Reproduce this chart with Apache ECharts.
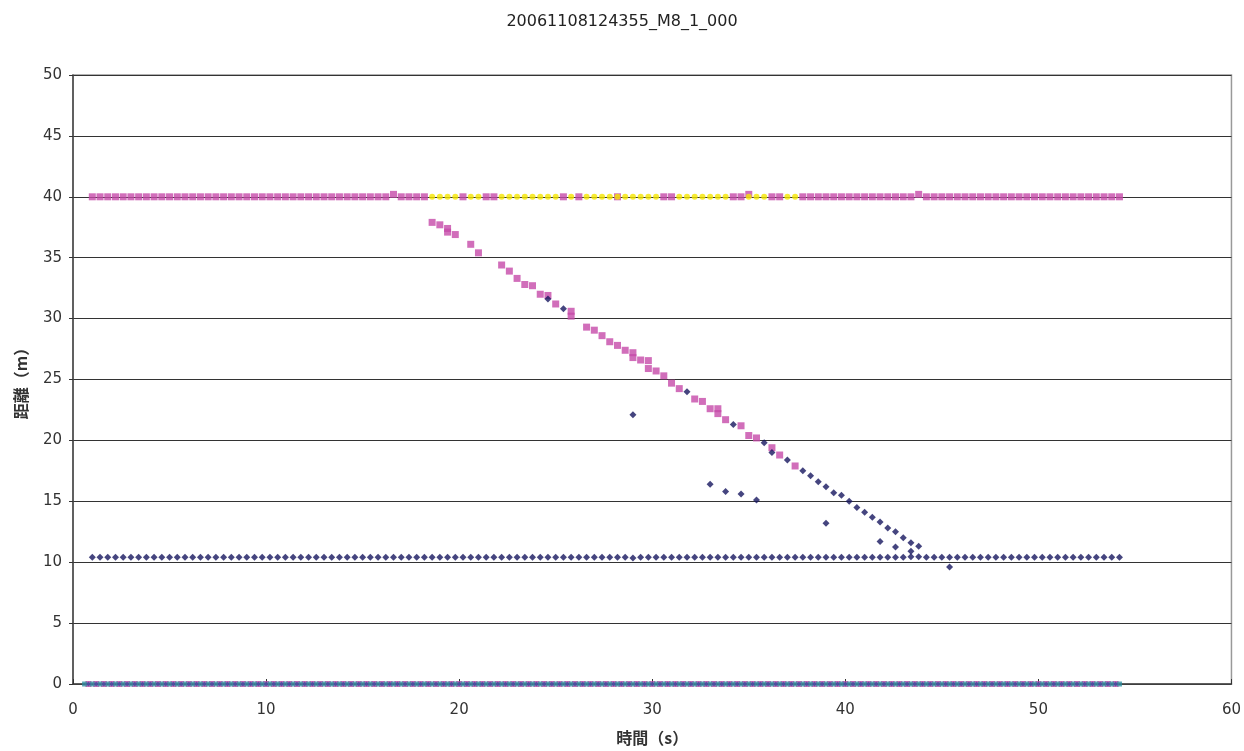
<!DOCTYPE html>
<html>
<head>
<meta charset="utf-8">
<script src="https://cdn.jsdelivr.net/npm/echarts@6/dist/echarts.min.js"></script>
<style>
html,body{margin:0;padding:0;background:#fff;overflow:hidden;}
#chart{width:1244px;height:751px;}
</style>
</head>
<body>
<div id="chart"></div>
<script>
// sample times (s)
const sampleTimes = [
 1.0,1.4,1.8,2.2,2.6,3.0,3.4,3.8,4.2,4.6,
 5.0,5.4,5.8,6.2,6.6,7.0,7.4,7.8,8.2,8.6,
 9.0,9.4,9.8,10.2,10.6,11.0,11.4,11.8,12.2,12.6,
 13.0,13.4,13.8,14.2,14.6,15.0,15.4,15.8,16.2,16.6,
 17.0,17.4,17.8,18.2,18.6,19.0,19.4,19.8,20.2,20.6,
 21.0,21.4,21.8,22.2,22.6,23.0,23.4,23.8,24.2,24.6,
 25.0,25.4,25.8,26.2,26.6,27.0,27.4,27.8,28.2,28.6,
 29.0,29.4,29.8,30.2,30.6,31.0,31.4,31.8,32.2,32.6,
 33.0,33.4,33.8,34.2,34.6,35.0,35.4,35.8,36.2,36.6,
 37.0,37.4,37.8,38.2,38.6,39.0,39.4,39.8,40.2,40.6,
 41.0,41.4,41.8,42.2,42.6,43.0,43.4,43.8,44.2,44.6,
 45.0,45.4,45.8,46.2,46.6,47.0,47.4,47.8,48.2,48.6,
 49.0,49.4,49.8,50.2,50.6,51.0,51.4,51.8,52.2,52.6,
 53.0,53.4,53.8,54.2
];
// magenta series, one value per sample time (null = no point)
const pinkValues = [
 40,40,40,40,40,40,40,40,40,40,
 40,40,40,40,40,40,40,40,40,40,
 40,40,40,40,40,40,40,40,40,40,
 40,40,40,40,40,40,40,40,40,40.2,
 40,40,40,40,37.9,37.7,37.4,36.9,40,36.1,
 35.4,40,40,34.4,33.9,33.3,32.8,32.7,32.0,31.9,
 31.2,40,30.6,40,29.3,29.05,28.6,28.1,27.8,27.4,
 27.2,26.6,26.55,25.7,25.3,24.7,24.25,null,23.4,23.2,
 22.6,22.6,21.7,40,21.2,20.4,20.2,null,19.4,18.8,
 null,17.9,40,40,40,40,40,40,40,40,
 40,40,40,40,40,40,40,40.2,40,40,
 40,40,40,40,40,40,40,40,40,40,
 40,40,40,40,40,40,40,40,40,40,
 40,40,40,40
];
const pinkExtraTimes  = [19.4, 25.8, 28.2, 29.0, 29.8, 30.6, 31.0, 33.4, 34.6, 35.0, 36.2, 36.6];
const pinkExtraValues = [37.1, 30.2, 40,   26.8, 25.9, 40,   40,   22.2, 40,   40.2, 40,   40];
// yellow series
const yellowTimes = [18.6,19.0,19.4,19.8,20.6,21.0,22.2,22.6,23.0,23.4,23.8,24.2,24.6,25.0,25.8,26.6,27.0,27.4,27.8,28.2,28.6,29.0,29.4,29.8,30.2,31.4,31.8,32.2,32.6,33.0,33.4,33.8,35.0,35.4,35.8,37.0,37.4];
const yellowValues = [40,40,40,40,40,40,40,40,40,40,40,40,40,40,40,40,40,40,40,40,40,40,40,40,40,40,40,40,40,40,40,40,40,40,40,40,40];
// navy series: level at ~10.4 m for every sample time
const navyLevel = [
 10.4,10.4,10.4,10.4,10.4,10.4,10.4,10.4,10.4,10.4,
 10.4,10.4,10.4,10.4,10.4,10.4,10.4,10.4,10.4,10.4,
 10.4,10.4,10.4,10.4,10.4,10.4,10.4,10.4,10.4,10.4,
 10.4,10.4,10.4,10.4,10.4,10.4,10.4,10.4,10.4,10.4,
 10.4,10.4,10.4,10.4,10.4,10.4,10.4,10.4,10.4,10.4,
 10.4,10.4,10.4,10.4,10.4,10.4,10.4,10.4,10.4,10.4,
 10.4,10.4,10.4,10.4,10.4,10.4,10.4,10.4,10.4,10.4,
 10.35,10.4,10.4,10.4,10.4,10.4,10.4,10.4,10.4,10.4,
 10.4,10.4,10.4,10.4,10.4,10.4,10.4,10.4,10.4,10.4,
 10.4,10.4,10.4,10.4,10.4,10.4,10.4,10.4,10.4,10.4,
 10.4,10.4,10.4,10.4,10.4,10.4,10.45,10.45,10.4,10.4,
 10.4,10.4,10.4,10.4,10.4,10.4,10.4,10.4,10.4,10.4,
 10.4,10.4,10.4,10.4,10.4,10.4,10.4,10.4,10.4,10.4,
 10.4,10.4,10.4,10.4
];
// navy approaching track and scattered detections
const navyTrackTimes  = [24.6,25.4,31.8,34.2,35.8,36.2,37.0,37.8,38.2,38.6,39.0,39.4,39.8,40.2,40.6,41.0,41.4,41.8,42.2,42.6,43.0,43.4,43.8];
const navyTrackValues = [31.6,30.8,24.0,21.3,19.8,19.0,18.4,17.5,17.1,16.6,16.2,15.7,15.5,15.0,14.5,14.1,13.7,13.3,12.8,12.5,12.0,11.6,11.3];
const navyOutlierTimes  = [29.0,33.0,33.8,34.6,35.4,39.0,41.8,42.6,43.4,45.4];
const navyOutlierValues = [22.1,16.4,15.8,15.6,15.1,13.2,11.7,11.25,10.9,9.6];
// zero-level detections (several series overlap at 0 m)
const zeroTimes = [
 0.6,1.0,1.4,1.8,2.2,2.6,3.0,3.4,3.8,4.2,4.6,
 5.0,5.4,5.8,6.2,6.6,7.0,7.4,7.8,8.2,8.6,
 9.0,9.4,9.8,10.2,10.6,11.0,11.4,11.8,12.2,12.6,
 13.0,13.4,13.8,14.2,14.6,15.0,15.4,15.8,16.2,16.6,
 17.0,17.4,17.8,18.2,18.6,19.0,19.4,19.8,20.2,20.6,
 21.0,21.4,21.8,22.2,22.6,23.0,23.4,23.8,24.2,24.6,
 25.0,25.4,25.8,26.2,26.6,27.0,27.4,27.8,28.2,28.6,
 29.0,29.4,29.8,30.2,30.6,31.0,31.4,31.8,32.2,32.6,
 33.0,33.4,33.8,34.2,34.6,35.0,35.4,35.8,36.2,36.6,
 37.0,37.4,37.8,38.2,38.6,39.0,39.4,39.8,40.2,40.6,
 41.0,41.4,41.8,42.2,42.6,43.0,43.4,43.8,44.2,44.6,
 45.0,45.4,45.8,46.2,46.6,47.0,47.4,47.8,48.2,48.6,
 49.0,49.4,49.8,50.2,50.6,51.0,51.4,51.8,52.2,52.6,
 53.0,53.4,53.8,54.2
];
const zeroShiftTimes = [
 0.8,1.2,1.6,2.0,2.4,2.8,3.2,3.6,4.0,4.4,4.8,
 5.2,5.6,6.0,6.4,6.8,7.2,7.6,8.0,8.4,8.8,
 9.2,9.6,10.0,10.4,10.8,11.2,11.6,12.0,12.4,12.8,
 13.2,13.6,14.0,14.4,14.8,15.2,15.6,16.0,16.4,16.8,
 17.2,17.6,18.0,18.4,18.8,19.2,19.6,20.0,20.4,20.8,
 21.2,21.6,22.0,22.4,22.8,23.2,23.6,24.0,24.4,24.8,
 25.2,25.6,26.0,26.4,26.8,27.2,27.6,28.0,28.4,28.8,
 29.2,29.6,30.0,30.4,30.8,31.2,31.6,32.0,32.4,32.8,
 33.2,33.6,34.0,34.4,34.8,35.2,35.6,36.0,36.4,36.8,
 37.2,37.6,38.0,38.4,38.8,39.2,39.6,40.0,40.4,40.8,
 41.2,41.6,42.0,42.4,42.8,43.2,43.6,44.0,44.4,44.8,
 45.2,45.6,46.0,46.4,46.8,47.2,47.6,48.0,48.4,48.8,
 49.2,49.6,50.0,50.4,50.8,51.2,51.6,52.0,52.4,52.8,
 53.2,53.6,54.0
];
const zeroLevel = 0;

const xTicks = [0,10,20,30,40,50,60];
const yTicks = [0,5,10,15,20,25,30,35,40,45,50];

function zip(ts, vs){ const out=[]; for(let i=0;i<ts.length;i++){ if(vs[i]!==null && vs[i]!==undefined) out.push([ts[i], vs[i]]); } return out; }
function level(ts, v){ return ts.map(t=>[t, v]); }

const NAVY = '#17175f', PINK = '#c64aa9', YEL = '#f5e600', TEAL = '#2f8fa0';

const chart = echarts.init(document.getElementById('chart'), null, {renderer:'canvas'});
chart.setOption({
  animation:false,
  backgroundColor:'#fff',
  title:{
    text:'20061108124355_M8_1_000', left:'center', top:9,
    textStyle:{fontFamily:'DejaVu Sans', fontSize:16, fontWeight:'normal', color:'#222'}
  },
  grid:{left:73, right:8, top:75, bottom:61, show:true, borderColor:'#999', borderWidth:1.5, backgroundColor:'#fff'},
  xAxis:{
    type:'value', min:xTicks[0], max:xTicks[xTicks.length-1], interval:10,
    name:'時間（s）', nameLocation:'middle', nameGap:46,
    nameTextStyle:{fontFamily:'Noto Sans CJK JP', fontSize:16, fontWeight:'bold', color:'#333'},
    axisLine:{show:true, lineStyle:{color:'#444', width:1.5}},
    axisTick:{show:true, inside:true, length:5, lineStyle:{color:'#333'}},
    axisLabel:{fontFamily:'DejaVu Sans', fontSize:15, color:'#333', margin:19},
    splitLine:{show:false}
  },
  yAxis:{
    type:'value', min:yTicks[0], max:yTicks[yTicks.length-1], interval:5,
    name:'距離（m）', nameLocation:'middle', nameGap:44, nameRotate:90,
    nameTextStyle:{fontFamily:'Noto Sans CJK JP', fontSize:16, fontWeight:'bold', color:'#333'},
    axisLine:{show:true, lineStyle:{color:'#444', width:1.5}},
    axisTick:{show:true, inside:false, length:4, lineStyle:{color:'#333'}},
    axisLabel:{fontFamily:'DejaVu Sans', fontSize:15, color:'#333', margin:11},
    splitLine:{show:true, lineStyle:{color:'#333', width:1.2}}
  },
  series:[
    {type:'scatter', name:'pinkZero', symbol:'rect', symbolSize:6, itemStyle:{color:PINK}, data:level(zeroShiftTimes, zeroLevel), z:2},
    {type:'scatter', name:'tealZero', symbol:'rect', symbolSize:5, itemStyle:{color:TEAL}, data:level(zeroTimes, zeroLevel), z:3},
    {type:'scatter', name:'navyZero', symbol:'diamond', symbolSize:5, itemStyle:{color:'#3a4fa0'}, data:level(zeroShiftTimes, zeroLevel), z:4},
    {type:'scatter', name:'pink', symbol:'rect', symbolSize:7, itemStyle:{color:PINK}, data:zip(sampleTimes, pinkValues), z:5},
    {type:'scatter', name:'pinkExtra', symbol:'rect', symbolSize:7, itemStyle:{color:PINK}, data:zip(pinkExtraTimes, pinkExtraValues), z:5},
    {type:'scatter', name:'yellow', symbol:'circle', symbolSize:6, itemStyle:{color:YEL}, data:zip(yellowTimes, yellowValues), z:6},
    {type:'scatter', name:'navyLevel', symbol:'diamond', symbolSize:7, itemStyle:{color:NAVY}, data:zip(sampleTimes, navyLevel), z:7},
    {type:'scatter', name:'navyTrack', symbol:'diamond', symbolSize:7, itemStyle:{color:NAVY}, data:zip(navyTrackTimes, navyTrackValues), z:7},
    {type:'scatter', name:'navyOut', symbol:'diamond', symbolSize:7, itemStyle:{color:NAVY}, data:zip(navyOutlierTimes, navyOutlierValues), z:7}
  ]
});
</script>
</body>
</html>
